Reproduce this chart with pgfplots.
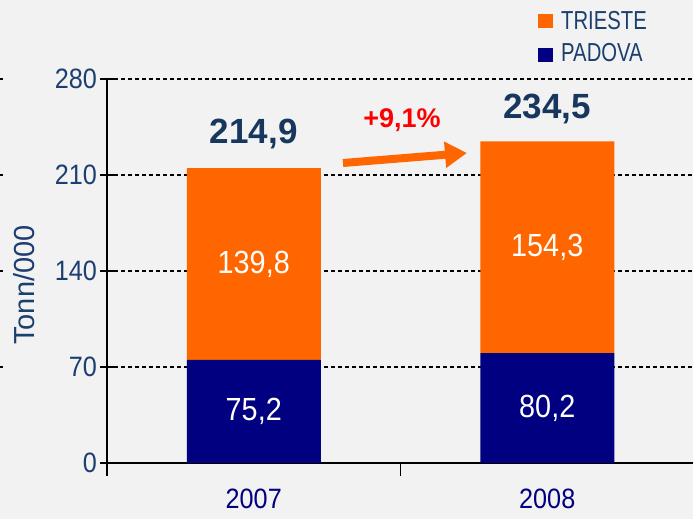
\documentclass[border=0pt]{standalone}
\usepackage{fontspec}
\setmainfont{Liberation Sans}
\newfontfamily\narrowfont{Liberation Sans}[FakeStretch=0.78]
\newfontfamily\numfont{Liberation Sans}[FakeStretch=0.9]
\usepackage{pgfplots}
\pgfplotsset{compat=1.18}
\usetikzlibrary{arrows.meta}
\definecolor{bg}{HTML}{F2F2F2}
\definecolor{orng}{HTML}{FF6600}
\definecolor{navy}{HTML}{000080}
\definecolor{tickc}{HTML}{1B3F6E}
\definecolor{totc}{HTML}{17375E}
\definecolor{redc}{HTML}{FF0000}
\newcommand\tk{\numfont\fontsize{28}{32}\selectfont}
\newcommand\inl{\numfont\fontsize{32}{36}\selectfont}
\newcommand\tot{\fontsize{35}{40}\selectfont\bfseries}
\begin{document}
\begin{tikzpicture}[x=1pt,y=1pt]
\path[use as bounding box, fill=bg] (0,0) rectangle (693,519);
\clip (0,0) rectangle (693,519);
\begin{axis}[
  at={(107pt,56pt)}, anchor=south west,
  scale only axis, width=587pt, height=384pt,
  ybar stacked, bar width=134pt,
  xmin=-0.5, xmax=1.5, ymin=0, ymax=280,
  ytick={0,70,140,210,280},
  xtick={-0.5,0.5,1.5}, xticklabels={2007,2008},
  x tick label as interval,
  axis x line*=bottom, axis y line*=left,
  axis line style={-, line width=2pt, black},
  every outer x axis line/.append style={-},
  every outer y axis line/.append style={-},
  x tick style={line width=1.5pt, black},
  y tick style={line width=1.5pt, black},
  xtick align=outside, ytick align=center,
  major tick length=13pt,
  ymajorgrids,
  grid style={black, line width=1.1pt, dash pattern=on 4pt off 3pt},
  /pgf/number format/assume math mode=true,
  yticklabel style={font=\tk, text=tickc},
  xticklabel style={font=\tk, text=navy, inner sep=0pt, yshift=-13pt},
  clip=false,
]
\addplot[fill=navy, draw=none] coordinates {(0,75.2) (1,80.2)};
\addplot[fill=orng, draw=none] coordinates {(0,139.8) (1,154.3)};
\coordinate (p07) at (axis cs:0,37.6);
\coordinate (p08) at (axis cs:1,40.1);
\coordinate (t07) at (axis cs:0,145.1);
\coordinate (t08) at (axis cs:1,157.35);
\node[font=\tot, text=totc, anchor=base, yshift=25pt] at (axis cs:0,214.9) {214,9};
\node[font=\tot, text=totc, anchor=base, yshift=23pt] at (axis cs:1,234.5) {234,5};
\end{axis}
% segment labels
\node[font=\inl, text=white] at (p07) {75,2};
\node[font=\inl, text=white] at (p08) {80,2};
\node[font=\inl, text=white] at (t07) {139,8};
\node[font=\inl, text=white] at (t08) {154,3};
% x axis stub left of y axis
\draw[line width=2pt] (100,56) -- (108,56);
% growth arrow and label
\draw[orng, line width=8pt, -{Triangle[length=22pt,width=25pt]}] (343,356) -- (467,366);
\node[font=\fontsize{27}{32}\selectfont\bfseries, text=redc] at (402,399) {+9,1\%};
% y label
\node[rotate=90, font=\fontsize{29}{34}\selectfont, text=tickc] at (24,234) {Tonn/000};
% legend
\fill[orng] (538,491) rectangle (553,505);
\fill[navy] (538,457) rectangle (553,471);
\node[anchor=west, font=\narrowfont\fontsize{26}{30}\selectfont, text=tickc, inner sep=0pt] at (561,498) {TRIESTE};
\node[anchor=west, font=\narrowfont\fontsize{26}{30}\selectfont, text=tickc, inner sep=0pt] at (561,466) {PADOVA};
% fragments of neighbouring chart at left edge
\foreach \yy in {440,344,248,152} \draw[line width=1.5pt] (0,\yy) -- (3,\yy);
\end{tikzpicture}
\end{document}
